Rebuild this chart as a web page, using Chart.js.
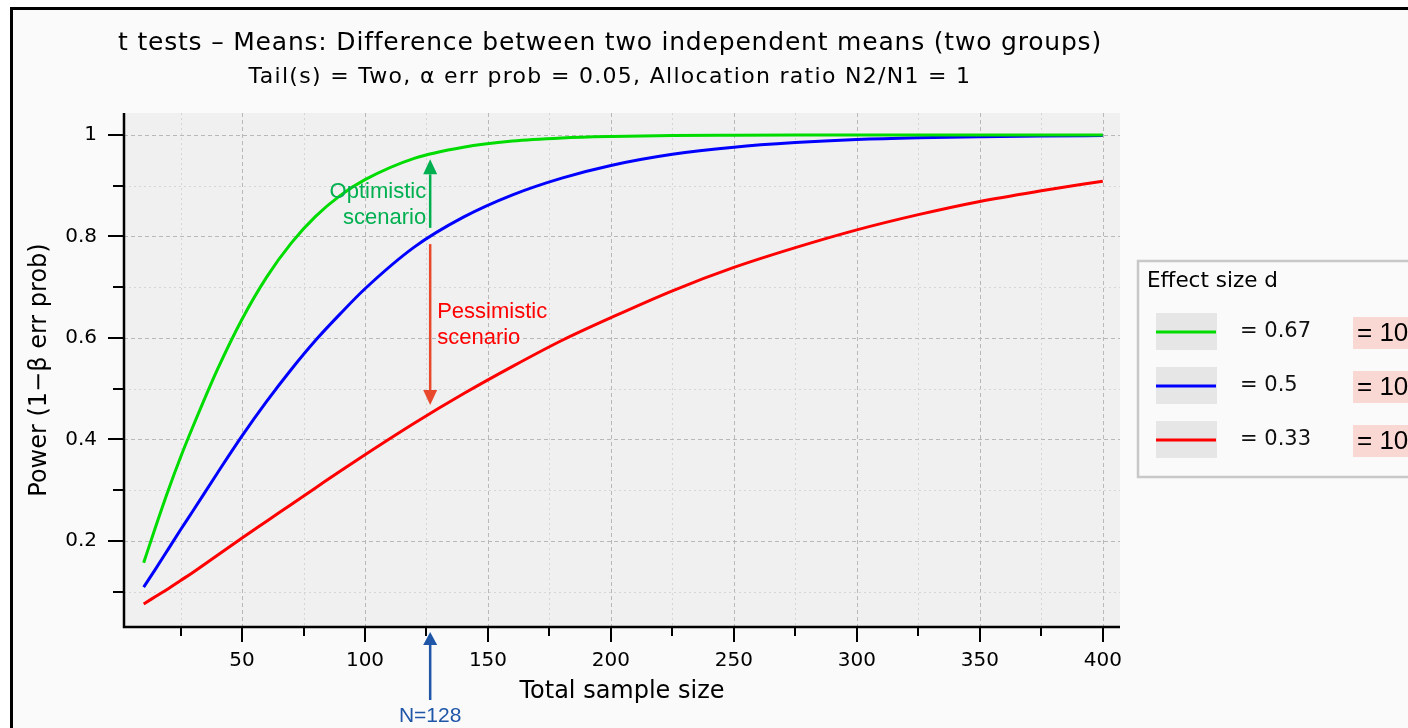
<!DOCTYPE html>
<html>
<head>
<meta charset="utf-8">
<script src="https://cdn.jsdelivr.net/npm/chart.js@4.4.1/dist/chart.umd.min.js"></script>
<style>
  html, body { margin: 0; padding: 0; background: #fff; overflow: hidden; }
  .frame {
    position: absolute; left: 10px; top: 7px; width: 1420px; height: 740px;
    border-left: 3px solid #000; border-top: 3px solid #000; background: #fafafa;
  }
  canvas { position: absolute; left: 0; top: 0; }
</style>
</head>
<body>
<div class="frame"></div>
<canvas id="chart" width="1408" height="728"></canvas>
<script>
// total sample size (both groups) and power
const sampleSizes = [10, 15, 20, 25, 30, 40, 50, 60, 70, 80, 90, 100, 120, 140, 160, 180, 200, 225, 250, 275, 300, 325, 350, 375, 400];
const powerD067 = [0.157, 0.230, 0.300, 0.365, 0.425, 0.538, 0.637, 0.720, 0.787, 0.840, 0.881, 0.912, 0.954, 0.976, 0.988, 0.994, 0.997, 0.999, 0.9996, 0.9999, 1, 1, 1, 1, 1];
const powerD05 = [0.109, 0.146, 0.184, 0.222, 0.259, 0.334, 0.407, 0.475, 0.538, 0.596, 0.648, 0.697, 0.779, 0.838, 0.882, 0.915, 0.940, 0.962, 0.976, 0.985, 0.991, 0.9945, 0.9966, 0.998, 0.9988];
const powerD033 = [0.076, 0.091, 0.106, 0.122, 0.138, 0.172, 0.206, 0.239, 0.272, 0.305, 0.338, 0.370, 0.432, 0.490, 0.544, 0.595, 0.640, 0.693, 0.739, 0.778, 0.813, 0.843, 0.869, 0.890, 0.909];
const effectSizes = ["0.67", "0.5", "0.33"];

const xTickValues = [25, 50, 75, 100, 125, 150, 175, 200, 225, 250, 275, 300, 325, 350, 375, 400];
const yTickValues = [0.1, 0.2, 0.3, 0.4, 0.5, 0.6, 0.7, 0.8, 0.9, 1.0];

// planned sample size; the arrows are drawn a little left of it in the original
const plannedN = 128;
const arrowN = 126.5;
const optimisticArrow = [0.817, 0.952];
const pessimisticArrow = [0.785, 0.468];

const lineColors = ["#00dc00", "#0000ff", "#ff0000"];
const series = [powerD067, powerD05, powerD033];

const isMajorX = (v) => v % 50 === 0;
const isMajorY = (v) => Math.round(v * 10) % 2 === 0;

function drawArrow(c, x, y0, y1, color, head, half) {
  const dir = Math.sign(y1 - y0);
  c.save();
  c.strokeStyle = color;
  c.fillStyle = color;
  c.lineWidth = 2.5;
  c.beginPath();
  c.moveTo(x, y0);
  c.lineTo(x, y1 - dir * head);
  c.stroke();
  c.beginPath();
  c.moveTo(x, y1);
  c.lineTo(x - half, y1 - dir * head);
  c.lineTo(x + half, y1 - dir * head);
  c.closePath();
  c.fill();
  c.restore();
}

const backdrop = {
  id: "backdrop",
  beforeDatasetsDraw(chart) {
    const c = chart.ctx;
    const a = chart.chartArea;
    const xs = chart.scales.x;
    const ys = chart.scales.y;
    c.save();
    c.fillStyle = "#f0f0f0";
    c.fillRect(a.left, a.top, a.right - a.left, a.bottom - a.top);
    c.lineWidth = 1;
    xTickValues.forEach((v) => {
      const px = Math.round(xs.getPixelForValue(v)) + 0.5;
      c.strokeStyle = isMajorX(v) ? "#b8b8b8" : "#d6d6d6";
      c.setLineDash(isMajorX(v) ? [4, 3] : [2, 3]);
      c.beginPath();
      c.moveTo(px, a.top);
      c.lineTo(px, a.bottom);
      c.stroke();
    });
    yTickValues.forEach((v) => {
      const py = Math.round(ys.getPixelForValue(v)) + 0.5;
      c.strokeStyle = isMajorY(v) ? "#b8b8b8" : "#d6d6d6";
      c.setLineDash(isMajorY(v) ? [4, 3] : [2, 3]);
      c.beginPath();
      c.moveTo(a.left, py);
      c.lineTo(a.right, py);
      c.stroke();
    });
    c.restore();
  },
  afterDatasetsDraw(chart) {
    const c = chart.ctx;
    const a = chart.chartArea;
    const xs = chart.scales.x;
    const ys = chart.scales.y;
    c.save();
    c.strokeStyle = "#000";
    c.lineWidth = 2.5;
    c.beginPath();
    c.moveTo(a.left, a.top);
    c.lineTo(a.left, a.bottom);
    c.lineTo(a.right, a.bottom);
    c.stroke();
    c.lineWidth = 2;
    xTickValues.forEach((v) => {
      const px = Math.round(xs.getPixelForValue(v));
      c.beginPath();
      c.moveTo(px, a.bottom);
      c.lineTo(px, a.bottom + (isMajorX(v) ? 15 : 9));
      c.stroke();
    });
    yTickValues.forEach((v) => {
      const py = Math.round(ys.getPixelForValue(v));
      c.beginPath();
      c.moveTo(a.left, py);
      c.lineTo(a.left - (isMajorY(v) ? 16 : 11), py);
      c.stroke();
    });
    c.restore();
  },
  afterDraw(chart) {
    const c = chart.ctx;
    const a = chart.chartArea;
    const xs = chart.scales.x;
    const ys = chart.scales.y;
    c.save();

    // titles
    c.fillStyle = "#000";
    c.textAlign = "center";
    c.textBaseline = "middle";
    c.letterSpacing = "0.8px";
    c.font = "25px 'DejaVu Sans'";
    c.fillText("t tests \u2013 Means: Difference between two independent means (two groups)", 610, 43);
    c.letterSpacing = "1.3px";
    c.font = "22px 'DejaVu Sans'";
    c.fillText("Tail(s) = Two, \u03b1 err prob = 0.05, Allocation ratio N2/N1 = 1", 610, 77);
    c.letterSpacing = "0px";

    // scenario arrows
    const px = xs.getPixelForValue(arrowN);
    drawArrow(c, px, ys.getPixelForValue(optimisticArrow[0]), ys.getPixelForValue(optimisticArrow[1]), "#00b050", 15, 7);
    drawArrow(c, px, ys.getPixelForValue(pessimisticArrow[0]), ys.getPixelForValue(pessimisticArrow[1]), "#e8482c", 15, 7);
    drawArrow(c, px, a.bottom + 73, a.bottom + 5, "#1f56a8", 13, 7);

    c.font = "22px 'Liberation Sans'";
    c.fillStyle = "#00b050";
    c.textAlign = "right";
    c.fillText("Optimistic", px - 4, ys.getPixelForValue(0.888));
    c.fillText("scenario", px - 4, ys.getPixelForValue(0.836));
    c.fillStyle = "#ff0000";
    c.textAlign = "left";
    c.fillText("Pessimistic", px + 7, ys.getPixelForValue(0.651));
    c.fillText("scenario", px + 7, ys.getPixelForValue(0.600));
    c.font = "21px 'Liberation Sans'";
    c.fillStyle = "#1f56a8";
    c.textAlign = "center";
    c.fillText("N=" + plannedN, px, a.bottom + 89);

    // legend
    c.fillStyle = "#fafafa";
    c.fillRect(1138, 261, 300, 216);
    c.strokeStyle = "#c8c8c8";
    c.lineWidth = 2.5;
    c.strokeRect(1138, 261, 300, 216);
    c.fillStyle = "#000";
    c.textAlign = "left";
    c.font = "21.5px 'DejaVu Sans'";
    c.fillText("Effect size d", 1147, 281);
    chart.data.datasets.forEach((ds, i) => {
      const cy = 332 + i * 54;
      c.fillStyle = "#e6e6e6";
      c.fillRect(1156, cy - 19, 61, 37);
      c.strokeStyle = ds.borderColor;
      c.lineWidth = 3;
      c.beginPath();
      c.moveTo(1156, cy);
      c.lineTo(1216, cy);
      c.stroke();
      c.fillStyle = "#111";
      c.font = "21px 'DejaVu Sans'";
      c.fillText(ds.label, 1240, cy);
      c.fillStyle = "#f9d8d3";
      c.fillRect(1353, cy - 15, 60, 32);
      c.fillStyle = "#000";
      c.font = "26px 'Liberation Sans'";
      c.fillText("= 10", 1357, cy + 2);
    });
    c.restore();
  },
};

const tickFont = { family: "DejaVu Sans", size: 20 };
const titleFont = { family: "DejaVu Sans", size: 24 };

new Chart(document.getElementById("chart"), {
  type: "line",
  data: {
    datasets: series.map((vals, i) => ({
      label: "= " + effectSizes[i],
      data: vals.map((v, j) => ({ x: sampleSizes[j], y: v })),
      borderColor: lineColors[i],
      borderWidth: 3,
      pointRadius: 0,
      fill: false,
      cubicInterpolationMode: "monotone",
    })),
  },
  options: {
    responsive: false,
    animation: false,
    layout: { padding: { top: 113, right: 288, left: 0, bottom: 0 } },
    plugins: { legend: { display: false }, tooltip: { enabled: false } },
    scales: {
      x: {
        type: "linear",
        min: 2,
        max: 407,
        grid: { display: false, drawTicks: false },
        border: { display: false },
        afterBuildTicks: (s) => { s.ticks = xTickValues.map((v) => ({ value: v })); },
        afterFit: (s) => { s.height = 101; },
        ticks: {
          autoSkip: false,
          maxRotation: 0,
          padding: 22,
          color: "#000",
          font: tickFont,
          callback: (v) => (isMajorX(v) ? String(v) : ""),
        },
        title: { display: true, text: "Total sample size", color: "#000", font: titleFont, padding: { top: 0, bottom: 22 } },
      },
      y: {
        min: 0.0305,
        max: 1.0433,
        grid: { display: false, drawTicks: false },
        border: { display: false },
        afterBuildTicks: (s) => { s.ticks = yTickValues.map((v) => ({ value: v })); },
        afterFit: (s) => { s.width = 124; },
        ticks: {
          autoSkip: false,
          padding: 27,
          color: "#000",
          font: tickFont,
          callback: (v) => (isMajorY(v) ? (v === 1 ? "1" : v.toFixed(1)) : ""),
        },
        title: { display: true, text: "Power (1\u2212\u03b2 err prob)", color: "#000", font: titleFont, padding: { top: 25, bottom: 0 } },
      },
    },
  },
  plugins: [backdrop],
});
</script>
</body>
</html>
